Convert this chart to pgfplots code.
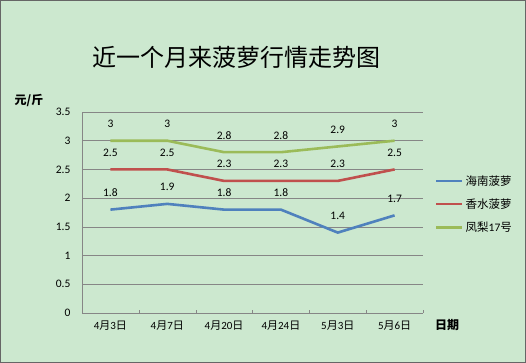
\documentclass[border=0pt]{standalone}
\usepackage{pgfplots}
\pgfplotsset{compat=1.18}
\usepackage{fontspec}
\setmainfont{Carlito}
\newfontfamily\cjk{Noto Sans CJK SC}
\definecolor{bg}{HTML}{CCE8CF}
\definecolor{s1}{HTML}{4F81BD}
\definecolor{s2}{HTML}{C0504D}
\definecolor{s3}{HTML}{9BBB59}
\definecolor{gridc}{HTML}{868686}
\begin{document}
\begin{tikzpicture}[x=1pt,y=1pt]
\fill[bg] (0,0) rectangle (526,363);
\draw[gray!80!black, line width=1pt] (0.5,0.5) rectangle (525.5,362.5);
\useasboundingbox (0,0) rectangle (526,363);
\node[font=\cjk\fontsize{24}{27}\selectfont] at (236,306) {近一个月来菠萝行情走势图};
\node[font=\cjk\bfseries\fontsize{12}{14}\selectfont] at (29,263) {元/斤};
\node[font=\cjk\bfseries\fontsize{12}{14}\selectfont] at (447,38) {日期};
\begin{axis}[
  at={(82pt,50pt)}, anchor=south west,
  scale only axis, width=341pt, height=201pt,
  xmin=-0.5, xmax=5.5, ymin=0, ymax=3.5,
  xtick={0,...,5},
  xticklabels={4{\cjk 月}3{\cjk 日},4{\cjk 月}7{\cjk 日},4{\cjk 月}20{\cjk 日},4{\cjk 月}24{\cjk 日},5{\cjk 月}3{\cjk 日},5{\cjk 月}6{\cjk 日}},
  minor xtick={-0.5,0.5,...,5.5},
  ytick={0,0.5,...,3.5},
  /pgf/number format/assume math mode=true,
  yticklabel style={font=\fontsize{11.5}{13}\selectfont, anchor=east, xshift=-8pt},
  xticklabel style={font=\fontsize{11}{13}\selectfont, yshift=-4pt},
  major tick length=0pt,
  minor tick length=3pt,
  minor tick style={gridc},
  tick align=inside,
  ymajorgrids, major grid style={gridc, line width=0.6pt},
  axis x line*=bottom, axis y line*=left,
  axis line style={gridc, line width=0.6pt},
  x axis line style={-}, y axis line style={-},
  every axis plot/.append style={line width=2.6pt},
  nodes near coords,
  every node near coord/.append style={font=\fontsize{11.5}{13}\selectfont, text=black, inner sep=0pt, anchor=base, yshift=13pt},
  legend style={at={(1.026,0.542)}, anchor=west, draw=none, fill=none,
    font=\cjk\fontsize{11.5}{13}\selectfont, row sep=8pt, cells={anchor=west}},
  legend image code/.code={\draw[#1] (0pt,0pt) -- (26pt,0pt);},
  clip=false,
]
\addplot[s1, mark=none] coordinates {(0,1.8) (1,1.9) (2,1.8) (3,1.8) (4,1.4) (5,1.7)};
\addlegendentry{海南菠萝}
\addplot[s2, mark=none] coordinates {(0,2.5) (1,2.5) (2,2.3) (3,2.3) (4,2.3) (5,2.5)};
\addlegendentry{香水菠萝}
\addplot[s3, mark=none] coordinates {(0,3) (1,3) (2,2.8) (3,2.8) (4,2.9) (5,3)};
\addlegendentry{凤梨{\fontspec{Carlito}17}号}
\end{axis}
\end{tikzpicture}
\end{document}
